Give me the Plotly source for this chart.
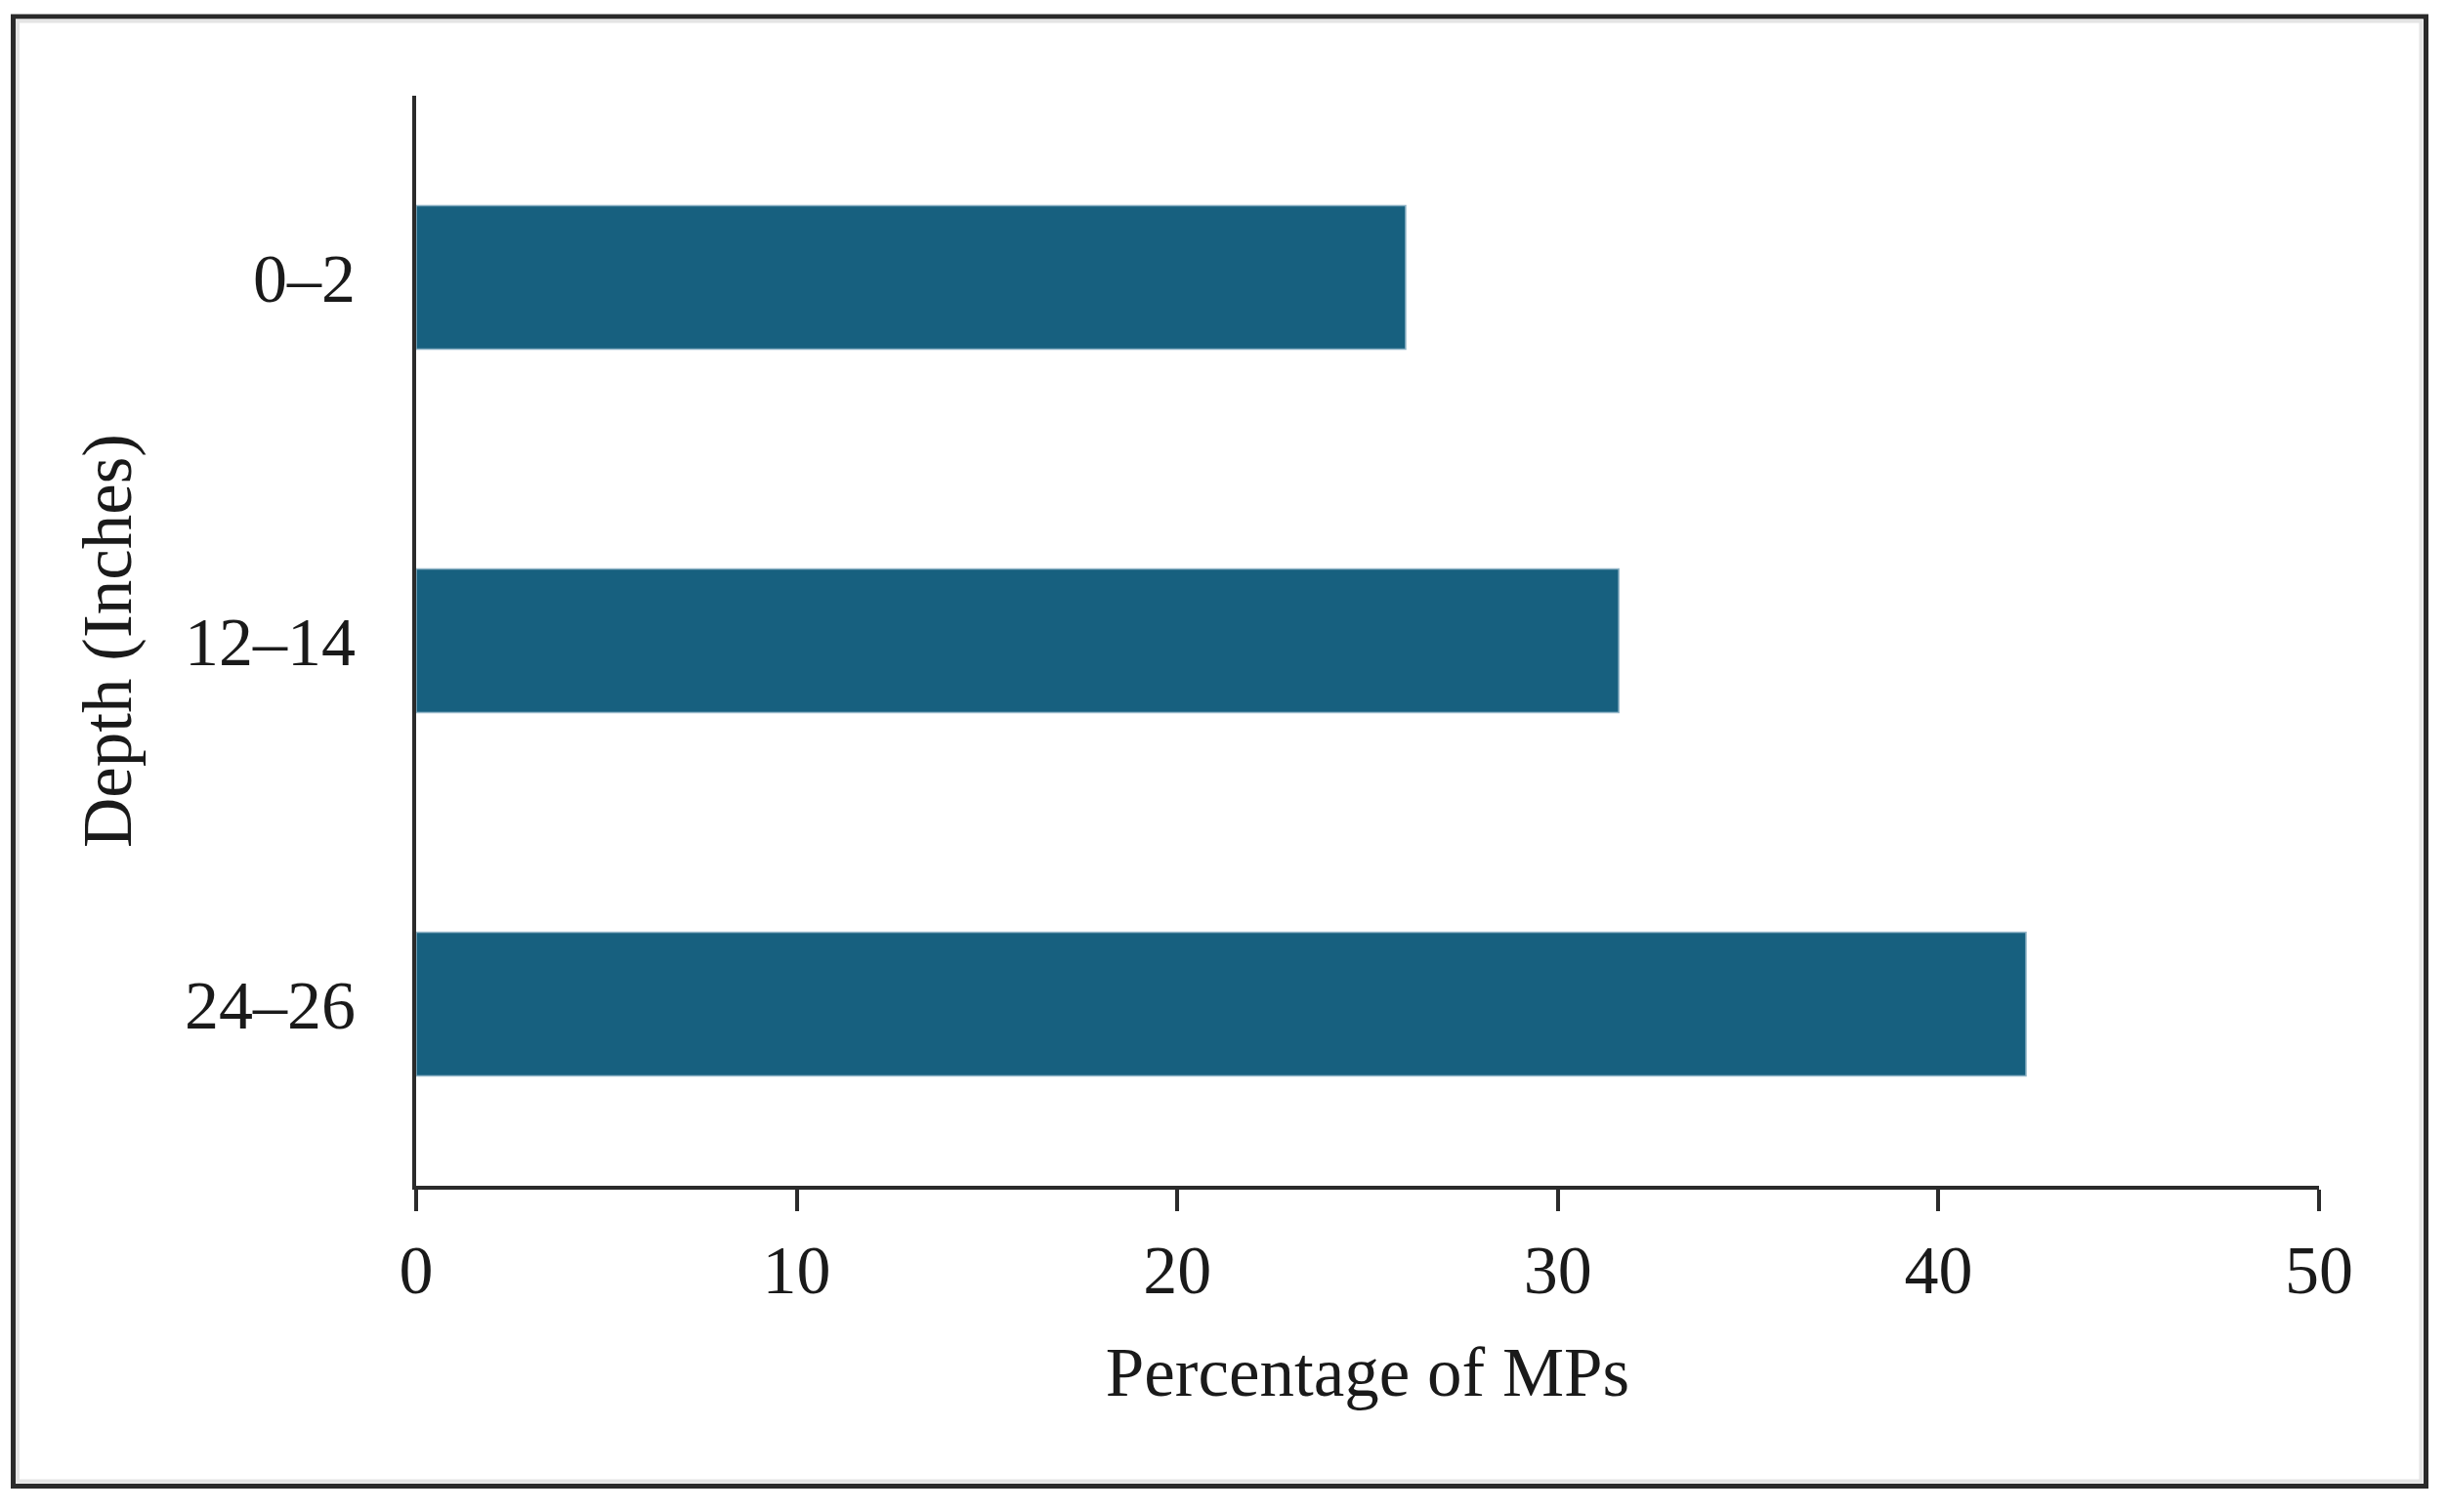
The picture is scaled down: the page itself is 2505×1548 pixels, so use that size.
import plotly.graph_objects as go

# depth bands (inches) and share of microplastics found in each
depths = ["0–2", "12–14", "24–26"]
mp_percent = [26.0, 31.6, 42.3]

x_ticks = [0, 10, 20, 30, 40, 50]

font_family = "Liberation Serif, Times New Roman, serif"
bar_color = "#17607F"

# page body adds an 8px margin, so pull the layout back by that much
OFF = 8
# plot area in pixels (page coords), used to place the outer frame too
L, R, T, B = 426 - OFF, 2374 - OFF, 98 - OFF, 1214 - OFF


def px(x):
    return (x - OFF - L) / (R - L)


def py(y):
    return (B - (y - OFF)) / (B - T)


fig = go.Figure()

fig.add_trace(
    go.Bar(
        x=mp_percent,
        y=depths,
        orientation="h",
        width=0.395,
        marker=dict(color=bar_color, line=dict(color="#8fb3c6", width=1.5)),
        showlegend=False,
    )
)

# frame around the whole figure
fig.add_shape(
    type="rect", xref="paper", yref="paper",
    x0=px(13.5), x1=px(2483.5), y0=py(1521.5), y1=py(17),
    line=dict(color="#2a2a2a", width=5),
)
fig.add_shape(
    type="rect", xref="paper", yref="paper",
    x0=px(18), x1=px(2478.5), y0=py(1516.5), y1=py(21.5),
    line=dict(color="#e4e4e4", width=4),
)

fig.update_layout(
    width=2505,
    height=1548,
    margin=dict(l=L, r=2505 - R, t=T, b=1548 - B),
    paper_bgcolor="white",
    plot_bgcolor="white",
    font=dict(family=font_family, size=70, color="#1a1a1a"),
    xaxis=dict(
        range=[0, 50],
        tickvals=x_ticks,
        ticks="outside",
        ticklen=22,
        tickwidth=4,
        tickcolor="#2b2b2b",
        showline=True,
        linewidth=4,
        linecolor="#2b2b2b",
        showgrid=False,
        zeroline=False,
        title=dict(text="Percentage of MPs", font=dict(size=71), standoff=42),
    ),
    yaxis=dict(
        range=[2.5, -0.5],
        categoryorder="array",
        categoryarray=depths,
        ticks="outside",
        ticklen=44,
        tickcolor="rgba(0,0,0,0)",
        showline=True,
        linewidth=4,
        linecolor="#2b2b2b",
        showgrid=False,
        zeroline=False,
        title=dict(text="Depth (Inches)", font=dict(size=71), standoff=32),
    ),
)

fig.write_html("out.html")
